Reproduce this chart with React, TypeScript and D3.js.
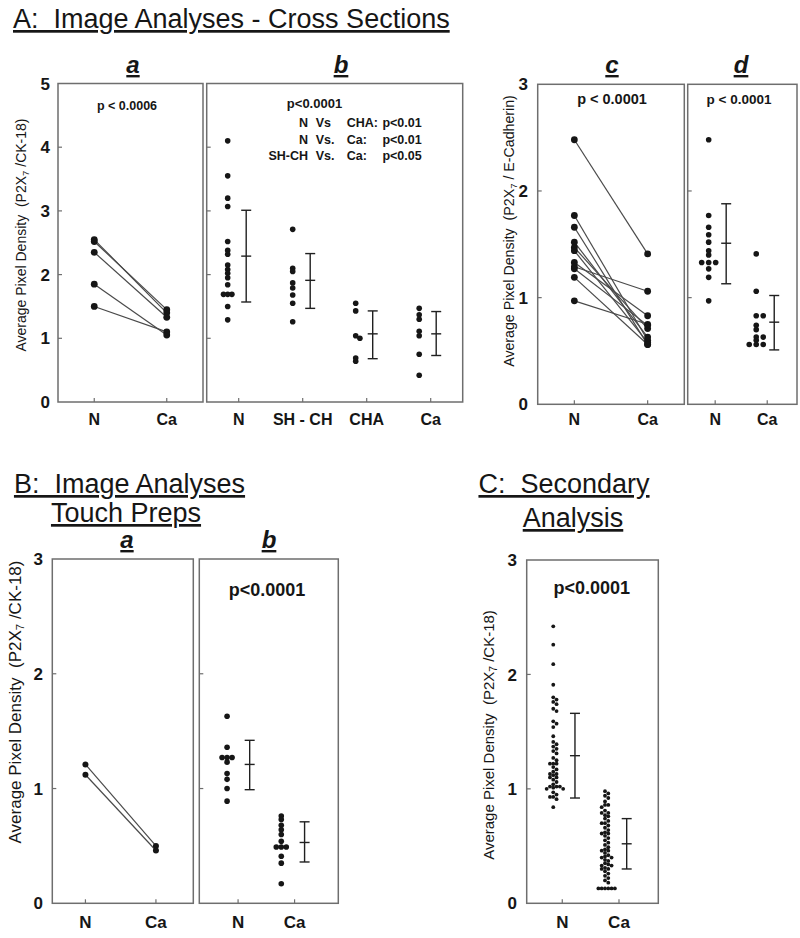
import React from "react";
import * as d3 from "d3";

// ---------- DATA ----------
const pairCats = ["N", "Ca"];
const groupCatsAB = ["N", "SH - CH", "CHA", "Ca"];
const yTicks5 = [0, 1, 2, 3, 4, 5];
const yTicks3 = [0, 1, 2, 3];

// A-a (paired)
const aaN = [2.55, 2.52, 2.35, 1.85, 1.5];
const aaCa = [1.4, 1.45, 1.33, 1.05, 1.1];

// A-b (groups)
const abN = [4.1, 3.55, 3.2, 3.07, 2.52, 2.38, 2.32, 2.15, 2.08, 2.02, 1.95, 1.84, 1.69, 1.69, 1.69, 1.5, 1.29];
const abSHCH = [2.71, 2.1, 2.05, 1.87, 1.79, 1.68, 1.55, 1.26];
const abCHA = [1.55, 1.43, 1.04, 1.0, 0.69, 0.64];
const abCa = [1.47, 1.37, 1.3, 1.11, 1.04, 0.75, 0.42];
const abMean = [2.29, 1.91, 1.07, 1.07];
const abLow = [1.57, 1.47, 0.68, 0.73];
const abHigh = [3.01, 2.33, 1.43, 1.42];

// A-c (paired)
const acN = [2.48, 1.77, 1.66, 1.52, 1.47, 1.44, 1.33, 1.29, 1.27, 1.19, 0.97];
const acCa = [1.41, 0.6, 0.56, 0.63, 0.71, 0.58, 0.83, 1.06, 0.74, 0.56, 0.75];

// A-d (groups)
const adN = [2.48, 1.77, 1.66, 1.59, 1.52, 1.44, 1.4, 1.33, 1.33, 1.33, 1.27, 1.19, 0.97];
const adCa = [1.41, 1.06, 0.83, 0.83, 0.74, 0.7, 0.63, 0.63, 0.6, 0.56, 0.56, 0.56];
const adMean = [1.51, 0.77];
const adLow = [1.13, 0.51];
const adHigh = [1.88, 1.02];

// B-a (paired)
const baN = [1.21, 1.12];
const baCa = [0.5, 0.46];

// B-b (groups)
const bbN = [1.63, 1.36, 1.27, 1.27, 1.27, 1.23, 1.13, 1.08, 1.0, 0.89];
const bbCa = [0.76, 0.73, 0.68, 0.64, 0.6, 0.54, 0.49, 0.49, 0.49, 0.41, 0.35, 0.17];
const bbMean = [1.21, 0.53];
const bbLow = [0.99, 0.36];
const bbHigh = [1.42, 0.71];

// C (groups)
const cN = [2.42, 2.26, 2.09, 1.91, 1.8, 1.78, 1.76, 1.74, 1.7, 1.68, 1.59, 1.57, 1.54, 1.46, 1.41, 1.39, 1.37, 1.35,
  1.33, 1.31, 1.27, 1.25, 1.22, 1.22, 1.22, 1.19, 1.17, 1.15, 1.13, 1.13, 1.12, 1.1, 1.1, 1.08, 1.06, 1.04, 1.02, 1.02,
  1.02, 1.01, 1.0, 1.0, 0.97, 0.95, 0.93, 0.93, 0.91, 0.84];
const cCa = [0.98, 0.96, 0.94, 0.92, 0.89, 0.86, 0.86, 0.84, 0.81, 0.79, 0.79, 0.77, 0.76, 0.74, 0.72, 0.7, 0.7, 0.68,
  0.66, 0.64, 0.62, 0.61, 0.61, 0.59, 0.57, 0.55, 0.53, 0.51, 0.49, 0.47, 0.46, 0.46, 0.44, 0.42, 0.41, 0.4, 0.4, 0.38,
  0.37, 0.35, 0.34, 0.33, 0.33, 0.31, 0.3, 0.3, 0.28, 0.26, 0.24, 0.22, 0.2, 0.18, 0.13, 0.13, 0.13, 0.13, 0.13, 0.13];
const cMean = [1.29, 0.52];
const cLow = [0.92, 0.3];
const cHigh = [1.66, 0.74];

// ---------- HELPERS ----------
const FONT = "'Liberation Sans', Arial, Helvetica, sans-serif";
const INK = "#161616";
const BOX = "#6e6e6e";

function dodge(ys: number[], h: number, step: number): number[] {
  const order = ys.map((_, i) => i).sort((a, b) => ys[a] - ys[b]);
  const placed: { y: number; k: number }[] = [];
  const out = new Array(ys.length).fill(0);
  const ks = [0, 1, -1, 2, -2, 3, -3, 4, -4, 5, -5];
  for (const i of order) {
    const yv = ys[i];
    for (const k of ks) {
      if (!placed.some((p) => p.k === k && Math.abs(p.y - yv) < h)) {
        placed.push({ y: yv, k });
        out[i] = k * step;
        break;
      }
    }
  }
  return out;
}

type PanelCfg = {
  x0: number; x1: number; y0: number; y1: number; yMax: number; ticks: number[];
  cats: string[]; pad: number; align?: number; yLabelX?: number; xLabelY: number;
  paired?: [number[], number[]];
  groups?: number[][]; mean?: number[]; low?: number[]; high?: number[];
  pOff?: number[]; bOff?: number[];
  r: number; h?: number; step?: number; cap?: number; fs?: number;
};

function Panel({ c }: { c: PanelCfg }) {
  const y = d3.scaleLinear().domain([0, c.yMax]).range([c.y1, c.y0]);
  const x = d3.scalePoint<string>().domain(c.cats).range([c.x0, c.x1]).padding(c.pad).align(c.align ?? 0.5);
  const cap = c.cap ?? 5;
  const fs = c.fs ?? 15;
  return (
    <g>
      <rect x={c.x0} y={c.y0} width={c.x1 - c.x0} height={c.y1 - c.y0} fill="none" stroke={BOX} strokeWidth={1.5} />
      {c.ticks.slice(1, -1).map((t) => (
        <line key={"yt" + t} x1={c.x0} x2={c.x0 + 4} y1={y(t)} y2={y(t)} stroke={BOX} strokeWidth={1.2} />
      ))}
      {c.yLabelX !== undefined &&
        c.ticks.map((t) => (
          <text key={"yl" + t} x={c.yLabelX} y={y(t)} dy="0.36em" textAnchor="end" fontFamily={FONT}
            fontWeight="bold" fontSize={17} fill={INK}>{t}</text>
        ))}
      {c.cats.map((k) => (
        <g key={"xc" + k}>
          <line x1={x(k)!} x2={x(k)!} y1={c.y1} y2={c.y1 - 4} stroke={BOX} strokeWidth={1.2} />
          <text x={x(k)!} y={c.xLabelY} textAnchor="middle" fontFamily={FONT} fontWeight="bold" fontSize={fs}
            fill={INK} style={{ whiteSpace: "pre" }}>{k}</text>
        </g>
      ))}
      {c.paired && (
        <g>
          {c.paired[0].map((v, i) => (
            <line key={"pl" + i} x1={x(c.cats[0])!} y1={y(v)} x2={x(c.cats[1])!} y2={y(c.paired![1][i])}
              stroke="#4a4a4a" strokeWidth={1.2} />
          ))}
          {c.paired.map((arr, gi) =>
            arr.map((v, i) => (
              <circle key={"pc" + gi + "-" + i} cx={x(c.cats[gi])!} cy={y(v)} r={c.r} fill={INK} />
            ))
          )}
        </g>
      )}
      {c.groups &&
        c.groups.map((arr, gi) => {
          const cx = x(c.cats[gi])!;
          const ys = arr.map((v) => y(v));
          const offs = dodge(ys, c.h ?? 3, c.step ?? 5);
          const bx = cx + (c.bOff ? c.bOff[gi] : 7);
          return (
            <g key={"g" + gi}>
              {arr.map((v, i) => (
                <circle key={i} cx={cx + (c.pOff ? c.pOff[gi] : -10) + offs[i]} cy={ys[i]} r={c.r} fill={INK} />
              ))}
              {c.mean && (
                <g stroke="#202020" strokeWidth={1.4}>
                  <line x1={bx} x2={bx} y1={y(c.low![gi])} y2={y(c.high![gi])} />
                  <line x1={bx - cap} x2={bx + cap} y1={y(c.low![gi])} y2={y(c.low![gi])} />
                  <line x1={bx - cap} x2={bx + cap} y1={y(c.high![gi])} y2={y(c.high![gi])} />
                  <line x1={bx - cap} x2={bx + cap} y1={y(c.mean[gi])} y2={y(c.mean[gi])} />
                </g>
              )}
            </g>
          );
        })}
    </g>
  );
}

function YTitle({ x, y, fs, rest }: { x: number; y: number; fs: number; rest: string }) {
  return (
    <text transform={`translate(${x},${y}) rotate(-90)`} textAnchor="middle" dominantBaseline="middle"
      fontFamily={FONT} fontSize={fs} fill={INK} style={{ whiteSpace: "pre" }}>
      {"Average Pixel Density  (P2X"}
      <tspan fontSize={fs * 0.68} dy={fs * 0.25}>7</tspan>
      <tspan dy={-fs * 0.25}>{rest}</tspan>
    </text>
  );
}

function Title({ x, y, text, anchor = "start", fs = 27 }: { x: number; y: number; text: string; anchor?: string; fs?: number }) {
  return (
    <text x={x} y={y} textAnchor={anchor as any} fontFamily={FONT} fontSize={fs} fill={INK}
      style={{ whiteSpace: "pre", textDecoration: "underline" }}>{text}</text>
  );
}

function Letter({ x, y, t, fs = 24 }: { x: number; y: number; t: string; fs?: number }) {
  return (
    <text x={x} y={y} textAnchor="middle" fontFamily={FONT} fontSize={fs} fontWeight="bold" fontStyle="italic"
      fill={INK} style={{ textDecoration: "underline" }}>{t}</text>
  );
}

function PText({ x, y, t, fs }: { x: number; y: number; t: string; fs: number }) {
  return (
    <text x={x} y={y} textAnchor="middle" fontFamily={FONT} fontSize={fs} fontWeight="bold" fill={INK}
      style={{ whiteSpace: "pre" }}>{t}</text>
  );
}

const compRows = [
  ["N", "Vs", "CHA:", "p<0.01"],
  ["N", "Vs.", "Ca:", "p<0.01"],
  ["SH-CH", "Vs.", "Ca:", "p<0.05"],
];

export default function App() {
  const yA0 = 83.5, yA1 = 402;
  const panels: PanelCfg[] = [
    { x0: 58, x1: 203, y0: yA0, y1: yA1, yMax: 5, ticks: yTicks5, cats: pairCats, pad: 0.5, yLabelX: 50,
      xLabelY: 425, paired: [aaN, aaCa], r: 3.4, fs: 16 },
    { x0: 206.7, x1: 462.7, y0: yA0, y1: yA1, yMax: 5, ticks: yTicks5, cats: groupCatsAB, pad: 0.5,
      xLabelY: 425, groups: [abN, abSHCH, abCHA, abCa], mean: abMean, low: abLow, high: abHigh,
      pOff: [-11, -10, -11, -11.5], bOff: [7.5, 7.5, 6, 5.5], r: 2.8, h: 3, step: 4.2, cap: 5, fs: 16 },
    { x0: 537.7, x1: 684.3, y0: 84.3, y1: 404.3, yMax: 3, ticks: yTicks3, cats: pairCats, pad: 0.5, yLabelX: 528,
      xLabelY: 425, paired: [acN, acCa], r: 3.4, fs: 16 },
    { x0: 687.7, x1: 797, y0: 84.3, y1: 404.3, yMax: 3, ticks: yTicks3, cats: pairCats, pad: 0.55, align: 0.48,
      xLabelY: 425, groups: [adN, adCa], mean: adMean, low: adLow, high: adHigh,
      pOff: [-6.5, -11], bOff: [11, 7], r: 2.8, h: 3, step: 7, cap: 5, fs: 16 },
    { x0: 52.3, x1: 193.3, y0: 559, y1: 903.3, yMax: 3, ticks: yTicks3, cats: pairCats, pad: 0.5, align: 0.47,
      yLabelX: 43, xLabelY: 928, paired: [baN, baCa], r: 3, fs: 17 },
    { x0: 199.3, x1: 338.3, y0: 559, y1: 903.3, yMax: 3, ticks: yTicks3, cats: pairCats, pad: 0.73, align: 0.47,
      xLabelY: 928, groups: [bbN, bbCa], mean: bbMean, low: bbLow, high: bbHigh,
      pOff: [-11, -13.3], bOff: [11.6, 10], r: 2.8, h: 3, step: 5, cap: 5, fs: 17 },
    { x0: 526.7, x1: 658.3, y0: 560, y1: 903.3, yMax: 3, ticks: yTicks3, cats: pairCats, pad: 0.66, align: 0.475,
      yLabelX: 517, xLabelY: 928, groups: [cN, cCa], mean: cMean, low: cLow, high: cHigh,
      pOff: [-9, -14], bOff: [12.7, 7.7], r: 1.9, h: 2.6, step: 3.3, cap: 5, fs: 17 },
  ];

  return (
    <svg width={800} height={938} style={{ position: "absolute", left: 0, top: 0, background: "#fff" }}>
      <rect width={800} height={938} fill="#fff" />
      <Title x={13} y={28} text="A:  Image Analyses - Cross Sections" />
      <Title x={129.5} y={493} text="B:  Image Analyses" anchor="middle" />
      <Title x={126} y={522} text="Touch Preps" anchor="middle" />
      <Title x={564} y={493} text="C:  Secondary" anchor="middle" />
      <Title x={573} y={527} text="Analysis" anchor="middle" />

      <Letter x={133} y={73} t="a" />
      <Letter x={341} y={73} t="b" />
      <Letter x={612} y={73} t="c" />
      <Letter x={741} y={73} t="d" />
      <Letter x={127} y={548} t="a" />
      <Letter x={269} y={548} t="b" />

      {panels.map((p, i) => <Panel key={i} c={p} />)}

      <YTitle x={22} y={235} fs={14} rest={" /CK-18)"} />
      <YTitle x={510} y={231} fs={14.2} rest={" / E-Cadherin)"} />
      <YTitle x={17} y={702} fs={17} rest={" /CK-18)"} />
      <YTitle x={490} y={735} fs={15} rest={" /CK-18)"} />

      <PText x={127} y={110} t="p < 0.0006" fs={12.5} />
      <PText x={314.5} y={108} t="p<0.0001" fs={13} />
      <PText x={612} y={104} t="p < 0.0001" fs={14.5} />
      <PText x={739} y={104} t="p < 0.0001" fs={13.5} />
      <PText x={267} y={596} t="p<0.0001" fs={18} />
      <PText x={591.7} y={593.5} t="p<0.0001" fs={18} />

      {compRows.map((row, i) => {
        const yy = 127 + i * 16.7;
        const common = { fontFamily: FONT, fontWeight: "bold" as const, fontSize: 12.5, fill: INK, y: yy };
        return (
          <g key={"cr" + i}>
            <text {...common} x={308} textAnchor="end">{row[0]}</text>
            <text {...common} x={315.7}>{row[1]}</text>
            <text {...common} x={346.7}>{row[2]}</text>
            <text {...common} x={421.7} textAnchor="end">{row[3]}</text>
          </g>
        );
      })}
    </svg>
  );
}
